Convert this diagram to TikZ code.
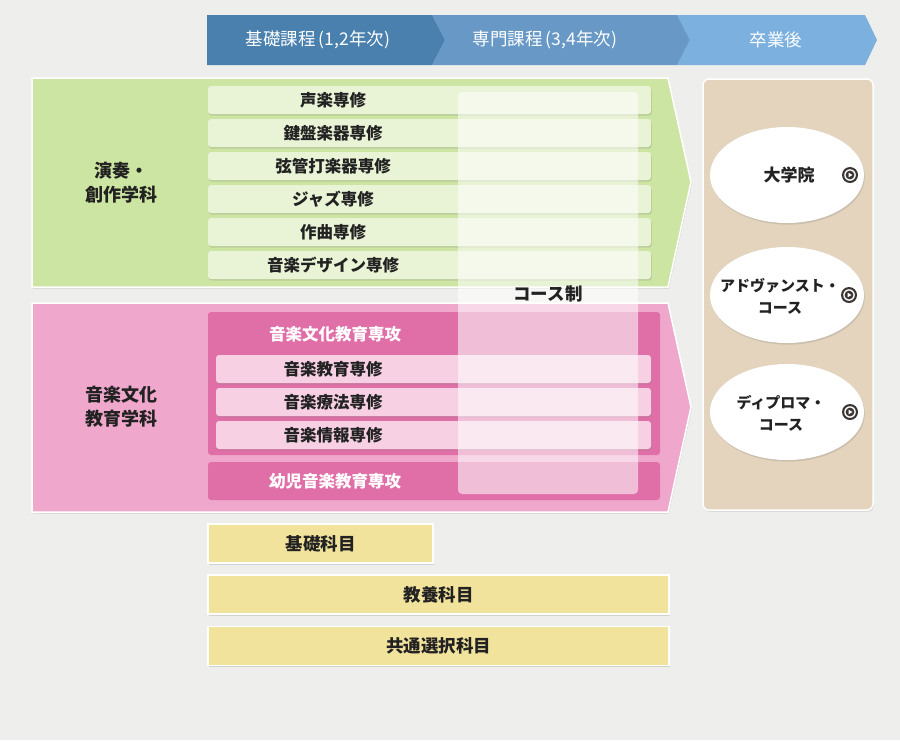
\documentclass[tikz,border=0pt]{standalone}
\usepackage{fontspec}
\setmainfont{Noto Sans CJK JP}
\usetikzlibrary{shadows,shapes.geometric,calc}
\definecolor{bg}{HTML}{EEEEEC}
\definecolor{hdA}{HTML}{4A80AE}
\definecolor{hdB}{HTML}{6899C6}
\definecolor{hdC}{HTML}{7BB0DF}
\definecolor{greenP}{HTML}{CDE5A2}
\definecolor{greenI}{HTML}{E9F3D6}
\definecolor{pinkP}{HTML}{EFA8CC}
\definecolor{pinkD}{HTML}{E06FA8}
\definecolor{pinkI}{HTML}{F7D0E4}
\definecolor{tan}{HTML}{E4D4BD}
\definecolor{yel}{HTML}{F2E39C}
\definecolor{txt}{HTML}{222222}
\definecolor{icon}{HTML}{3A3433}
\tikzset{
  sh/.style={drop shadow={opacity=0.25,shadow xshift=0.8pt,shadow yshift=-1.6pt}},
  hdtext/.style={text=white,font=\fontsize{17.5}{19}\selectfont},
  dept/.style={text=txt,font=\bfseries\fontsize{18}{24}\selectfont,align=center},
  greenitem/.style={fill=greenI,rounded corners=3pt,minimum width=443pt,minimum height=28pt,sh,text=txt,font=\bfseries\fontsize{16.5}{18}\selectfont,inner sep=0pt},
  pinkitem/.style={fill=pinkI,rounded corners=3pt,minimum width=435pt,minimum height=28pt,sh,text=txt,font=\bfseries\fontsize{16.5}{18}\selectfont,inner sep=0pt},
  pinkblock/.style={fill=pinkD,rounded corners=3pt},
  pinktitle/.style={text=white,font=\bfseries\fontsize{16.5}{18}\selectfont},
  yelbox/.style={fill=yel,draw=white,line width=1.5pt,sh,text=txt,font=\bfseries\fontsize{17.5}{19}\selectfont,minimum height=39pt,inner sep=0pt},
  oval/.style={ellipse,fill=white,sh,minimum width=154pt,minimum height=96pt,inner sep=0pt},
  ovaltext/.style={text=txt,font=\bfseries\fontsize{15}{22}\selectfont,align=center},
}
\newcommand{\playicon}[1]{%
  \fill[icon] (#1) circle (8pt);
  \fill[white] (#1) circle (5.8pt);
  \fill[icon] (#1) circle (4.4pt);
  \fill[white] ($(#1)+(-1.4,-2.3)$) -- ($(#1)+(2.5,0)$) -- ($(#1)+(-1.4,2.3)$) -- cycle;
}
\newcommand{\gtxt}[1]{\makebox[443pt][l]{\makebox[250pt]{#1}}}
\newcommand{\ptxt}[1]{\makebox[435pt][l]{\makebox[234pt]{#1}}}
\begin{document}
\begin{tikzpicture}[x=1pt,y=-1pt]
\fill[bg] (0,0) rectangle (900,740);
\useasboundingbox (0,0) rectangle (900,740);

% header chevrons
\fill[hdC] (677,15) -- (865,15) -- (877,40) -- (865,65) -- (677,65) -- (690,40) -- cycle;
\fill[hdB] (432,15) -- (677,15) -- (690,40) -- (677,65) -- (432,65) -- (445,40) -- cycle;
\fill[hdA] (207,15) -- (432,15) -- (445,40) -- (432,65) -- (207,65) -- cycle;
\node[hdtext] (h1) at (318,40) {基礎課程\,(1,2年次)};
\node[hdtext] (h2) at (545,40) {専門課程\,(3,4年次)};
\node[hdtext] (h3) at (776,40) {卒業後};

% green panel
\path[fill=greenP,draw=white,line width=1.5pt,sh] (32,78) -- (668,78) -- (691,182) -- (668,287) -- (32,287) -- cycle;
\node[dept] (d1) at (121,183) {演奏・\\創作学科};
\node[greenitem] (g1) at (429.5,100) {\gtxt{声楽専修}};
\node[greenitem] (g2) at (429.5,133) {\gtxt{鍵盤楽器専修}};
\node[greenitem] (g3) at (429.5,166) {\gtxt{弦管打楽器専修}};
\node[greenitem] (g4) at (429.5,199) {\gtxt{ジャズ専修}};
\node[greenitem] (g5) at (429.5,232) {\gtxt{作曲専修}};
\node[greenitem] (g6) at (429.5,265) {\gtxt{音楽デザイン専修}};

% pink panel
\path[fill=pinkP,draw=white,line width=1.5pt,sh] (32,303) -- (668,303) -- (691,407) -- (668,512) -- (32,512) -- cycle;
\node[dept] (d2) at (121,407) {音楽文化\\教育学科};
\fill[pinkblock] (208,312) rectangle (660,455);
\node[pinktitle] (p0) at (335,334) {音楽文化教育専攻};
\node[pinkitem] (p1) at (433.5,369) {\ptxt{音楽教育専修}};
\node[pinkitem] (p2) at (433.5,402) {\ptxt{音楽療法専修}};
\node[pinkitem] (p3) at (433.5,435) {\ptxt{音楽情報専修}};
\fill[pinkblock] (208,462) rectangle (660,500);
\node[pinktitle] (p4) at (335,481) {幼児音楽教育専攻};

% course overlay
\fill[white,opacity=0.55,rounded corners=4pt] (458,92) rectangle (638,494);
\node[text=txt,font=\bfseries\fontsize{17.5}{19}\selectfont] (cs) at (548,294) {コース制};

% after graduation column
\path[fill=tan,draw=white,line width=1.5pt,rounded corners=6pt,sh] (703,79) rectangle (873,510);
\node[oval] (o1) at (787,175) {};
\node[ovaltext,font=\bfseries\fontsize{17}{22}\selectfont] at (789,175) {大学院};
\node[oval] (o2) at (787,295) {};
\node[ovaltext] at (780,296) {アドヴァンスト・\\コース};
\node[oval] (o3) at (787,412) {};
\node[ovaltext] at (781,413) {ディプロマ・\\コース};
\coordinate (i1) at (850,175);
\coordinate (i2) at (849,295);
\coordinate (i3) at (850,412);
\playicon{i1}
\playicon{i2}
\playicon{i3}

% bottom subjects
\node[yelbox,minimum width=225pt] (y1) at (320.5,543.5) {基礎科目};
\node[yelbox,minimum width=461pt] (y2) at (438.5,594.5) {教養科目};
\node[yelbox,minimum width=461pt] (y3) at (438.5,646) {共通選択科目};
\end{tikzpicture}
\end{document}
